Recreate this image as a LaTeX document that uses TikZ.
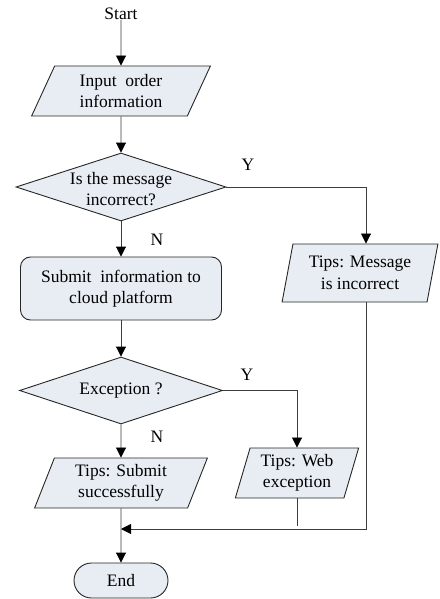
\documentclass[tikz,border=0pt]{standalone}
\usepackage{fontspec}
\setmainfont{Liberation Serif}
\usetikzlibrary{shapes.geometric,shapes.misc,arrows.meta}
\definecolor{boxfill}{RGB}{232,237,244}
\definecolor{linegray}{RGB}{60,60,60}
\begin{document}
\begin{tikzpicture}[x=1pt,y=-1pt,
 font=\fontsize{17.5}{21.5}\selectfont,
 shapebase/.style={draw=black!85, line width=0.9pt, fill=boxfill, inner sep=0pt},
 para/.style={shapebase, trapezium, trapezium left angle=#1, trapezium right angle=180-#1, trapezium stretches=true, align=center},
 dec/.style={shapebase, diamond},
 procbox/.style={shapebase, rectangle, rounded corners=10pt, align=center},
 term/.style={shapebase, rounded rectangle},
 txt/.style={align=center, inner sep=0pt},
 arr/.style={draw=linegray, line width=0.9pt, -{Triangle[length=10pt,width=10pt,color=black]}},
 conn/.style={draw=linegray, line width=0.9pt},
 lab/.style={inner sep=0pt}]
\useasboundingbox (0,0) rectangle (439,599);
\coordinate (rcol) at (366,0);
\node[txt] (start) at (121,14) {Start};
\node[para=67, minimum width=179, minimum height=50] (input) at (121,91) {Input\ \ order\\information};
\node[dec, minimum width=210, minimum height=68] (q1) at (121,187) {};
\node[txt] (q1t) at (121,189) {Is the message\\incorrect?};
\node[procbox, minimum width=201, minimum height=63] (submit) at (121,288.5) {Submit\ \ information to\\cloud platform};
\node[dec, minimum width=203, minimum height=67] (q2) at (121,390.5) {};
\node[txt] (q2t) at (121,391) {Exception ?};
\node[para=70, minimum width=173, minimum height=50] (ok) at (121,483) {Tips: Submit\\successfully};
\node[para=73, minimum width=124, minimum height=50] (web) at (297,473) {Tips: Web\\exception};
\node[para=76, minimum width=156, minimum height=58] (msg) at (360,273) {Tips: Message\\is incorrect};
\node[term, minimum width=94, minimum height=35] (end) at (121,580.5) {End};
\coordinate (merge) at (121,529);
\node[lab] (y1) at (248,165) {Y};
\node[lab] (n1) at (157,240) {N};
\node[lab] (y2) at (247,375) {Y};
\node[lab] (n2) at (157,437) {N};
\draw[arr] (start) -- (input.north);
\draw[arr] (input.south) -- (q1.north);
\draw[arr] (q1.east) -| (msg.north -| rcol);
\draw[arr] (q1.south) -- (submit.north);
\draw[arr] (submit.south) -- (q2.north);
\draw[arr] (q2.east) -| (web.north);
\draw[arr] (q2.south) -- (ok.north);
\draw[arr] (msg.south -| rcol) |- (merge);
\draw[conn] (web.south) -- ([yshift=3pt]web.south |- merge);
\draw[arr] (ok.south) -- (end.north);
\end{tikzpicture}
\end{document}
